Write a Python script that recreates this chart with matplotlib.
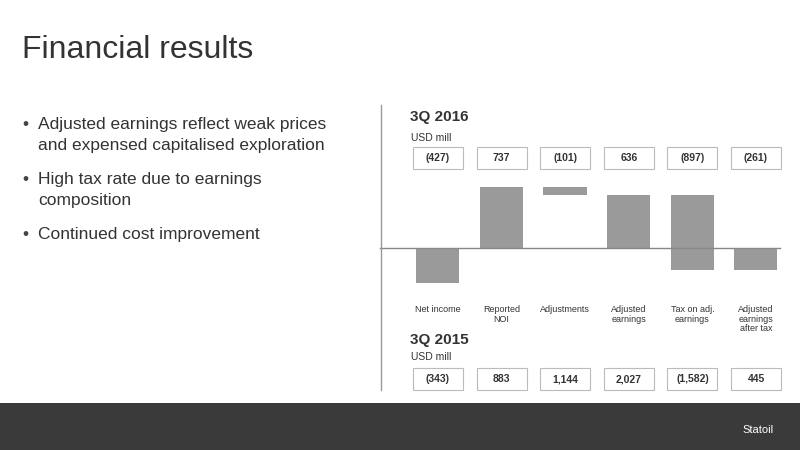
import matplotlib.pyplot as plt
from matplotlib.patches import Rectangle

plt.rcParams['font.family'] = ['Liberation Sans', 'DejaVu Sans']

categories = ["Net income", "Reported\nNOI", "Adjustments", "Adjusted\nearnings",
              "Tax on adj.\nearnings", "Adjusted\nearnings\nafter tax"]
q3_2016 = [-427, 737, -101, 636, -897, -261]
q3_2016_labels = ["(427)", "737", "(101)", "636", "(897)", "(261)"]
q3_2015_labels = ["(343)", "883", "1,144", "2,027", "(1,582)", "445"]
bullets = ["Adjusted earnings reflect weak prices\nand expensed capitalised exploration",
           "High tax rate due to earnings\ncomposition",
           "Continued cost improvement"]

W, H = 800, 450
fig = plt.figure(figsize=(8, 4.5), dpi=100)
fig.patch.set_facecolor("white")

def fx(px):
    return px / W

def fy(py):
    return 1 - py / H

# waterfall bottoms: totals start at zero, changes start from previous level
bottoms = [0, 0, 737, 0, 636, 0]

ax = fig.add_axes([fx(406), fy(295), 381.6 / W, 115 / H])
ax.bar(range(6), q3_2016, bottom=bottoms, width=0.68, color="#9a9a9a")
ax.set_xlim(-0.5, 5.5)
ax.set_ylim(-567.8, 821.6)
ax.axis("off")

# zero line
fig.add_artist(plt.Line2D([fx(380), fx(780)], [fy(248), fy(248)], color="#888888", lw=1))
# vertical divider
fig.add_artist(plt.Line2D([fx(381), fx(381)], [fy(105), fy(390)], color="#999999", lw=1))

fig.text(fx(22), fy(50), "Financial results", fontsize=23, color="#333333", va="center")
ys = [117, 172, 227]
for y, b in zip(ys, bullets):
    fig.text(fx(22), fy(y), "\u2022", fontsize=12.5, color="#444444", va="top")
    fig.text(fx(38), fy(y), b, fontsize=12.5, color="#333333", va="top", linespacing=1.5)

fig.text(fx(410), fy(117), "3Q 2016", fontsize=11, weight="bold", color="#333333", va="center")
fig.text(fx(411), fy(138), "USD mill", fontsize=7.5, color="#333333", va="center")
fig.text(fx(410), fy(340), "3Q 2015", fontsize=11, weight="bold", color="#333333", va="center")
fig.text(fx(411), fy(357), "USD mill", fontsize=7.5, color="#333333", va="center")

centers = [438 + i * 63.6 for i in range(6)]
for i, c in enumerate(centers):
    for yc, lab in ((158, q3_2016_labels[i]), (379, q3_2015_labels[i])):
        fig.add_artist(Rectangle((fx(c - 25), fy(yc + 11)), 50 / W, 22 / H,
                                 transform=fig.transFigure, fill=False,
                                 edgecolor="#bbbbbb", lw=0.8))
        fig.text(fx(c), fy(yc), lab, fontsize=7.5, weight="bold", color="#333333",
                 ha="center", va="center")
    fig.text(fx(c), fy(305), categories[i], fontsize=6.5, color="#333333",
             ha="center", va="top", linespacing=1.1)

# footer band
fig.add_artist(Rectangle((0, 0), 1, 47 / H, transform=fig.transFigure,
                         facecolor="#3a3a3a", edgecolor="none"))
fig.text(fx(742), fy(430), "Statoil", fontsize=8, color="white", ha="left", va="center")

fig.savefig("out.png", dpi=100)
